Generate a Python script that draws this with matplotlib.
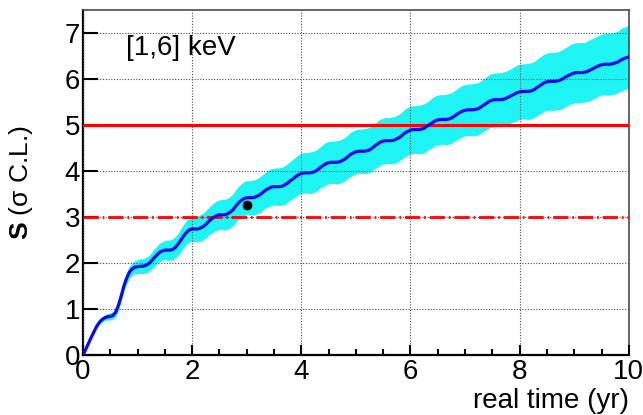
import numpy as np
import matplotlib
matplotlib.use("Agg")
import matplotlib.pyplot as plt
from matplotlib.ticker import MultipleLocator

# Data (step 0.05 yr)
time_yr = np.round(np.arange(0, 201) * 0.05, 2)
signif = [
    0.00, 0.12, 0.25, 0.38, 0.50, 0.62, 0.71, 0.77, 0.81, 0.83, 0.84,
    0.86, 0.93, 1.08, 1.28, 1.50, 1.67, 1.80, 1.87, 1.91, 1.92, 1.93,
    1.93, 1.95, 1.98, 2.04, 2.11, 2.17, 2.23, 2.26, 2.28, 2.28,
    2.28, 2.30, 2.35, 2.42, 2.51, 2.60, 2.67, 2.72, 2.74, 2.74,
    2.74, 2.76, 2.79, 2.84, 2.90, 2.95, 3.00, 3.03, 3.05, 3.05,
    3.05, 3.07, 3.11, 3.16, 3.24, 3.31, 3.36, 3.40, 3.42, 3.42,
    3.42, 3.43, 3.46, 3.49, 3.54, 3.59, 3.62, 3.65, 3.66, 3.66,
    3.66, 3.67, 3.70, 3.74, 3.79, 3.83, 3.88, 3.92, 3.95, 3.96, 3.96,
    3.96, 3.97, 3.99, 4.03, 4.08, 4.12, 4.16, 4.18, 4.19, 4.19,
    4.19, 4.20, 4.23, 4.26, 4.31, 4.36, 4.39, 4.42, 4.43, 4.43,
    4.43, 4.44, 4.46, 4.50, 4.55, 4.59, 4.63, 4.65, 4.66, 4.66,
    4.66, 4.67, 4.70, 4.73, 4.78, 4.83, 4.86, 4.89, 4.90, 4.90,
    4.90, 4.91, 4.93, 4.97, 5.01, 5.05, 5.09, 5.11, 5.12, 5.12,
    5.12, 5.13, 5.15, 5.19, 5.23, 5.27, 5.30, 5.32, 5.33, 5.33,
    5.33, 5.34, 5.36, 5.40, 5.44, 5.48, 5.52, 5.54, 5.55, 5.55,
    5.55, 5.56, 5.58, 5.61, 5.64, 5.67, 5.70, 5.72, 5.73, 5.73,
    5.73, 5.74, 5.76, 5.80, 5.84, 5.88, 5.92, 5.94, 5.95, 5.95,
    5.95, 5.96, 5.98, 6.01, 6.05, 6.08, 6.11, 6.13, 6.14, 6.14,
    6.14, 6.15, 6.17, 6.20, 6.23, 6.26, 6.29, 6.31, 6.32, 6.32,
    6.32, 6.33, 6.35, 6.37, 6.41, 6.44, 6.46, 6.48,
]
signif_err = [
    0.00, 0.01, 0.015, 0.02, 0.03, 0.04, 0.045, 0.05, 0.06, 0.07, 0.075,
    0.08, 0.09, 0.10, 0.105, 0.11, 0.12, 0.13, 0.135, 0.14, 0.15,
    0.16, 0.16, 0.17, 0.17, 0.18, 0.19, 0.19, 0.20, 0.20, 0.21,
    0.22, 0.22, 0.23, 0.23, 0.24, 0.25, 0.25, 0.26, 0.26, 0.27,
    0.28, 0.28, 0.29, 0.29, 0.30, 0.30, 0.31, 0.31, 0.32, 0.32,
    0.33, 0.33, 0.34, 0.34, 0.35, 0.35, 0.36, 0.36, 0.37, 0.37,
    0.37, 0.38, 0.38, 0.38, 0.39, 0.39, 0.39, 0.40, 0.40, 0.40,
    0.41, 0.41, 0.41, 0.42, 0.42, 0.42, 0.43, 0.43, 0.43, 0.44,
    0.44, 0.44, 0.45, 0.45, 0.45, 0.45, 0.45, 0.46, 0.46, 0.46,
    0.46, 0.46, 0.47, 0.47, 0.47, 0.47, 0.47, 0.48, 0.48, 0.48,
    0.48, 0.48, 0.49, 0.49, 0.49, 0.49, 0.49, 0.50, 0.50, 0.50,
    0.50, 0.50, 0.51, 0.51, 0.51, 0.51, 0.51, 0.52, 0.52, 0.52,
    0.52, 0.52, 0.53, 0.53, 0.53, 0.53, 0.53, 0.54, 0.54, 0.54,
    0.54, 0.54, 0.55, 0.55, 0.55, 0.55, 0.55, 0.56, 0.56, 0.56,
    0.56, 0.56, 0.57, 0.57, 0.57, 0.57, 0.57, 0.58, 0.58, 0.58,
    0.58, 0.58, 0.59, 0.59, 0.59, 0.59, 0.59, 0.60, 0.60, 0.60,
    0.60, 0.60, 0.61, 0.61, 0.61, 0.61, 0.62, 0.62, 0.62, 0.62,
    0.63, 0.63, 0.63, 0.63, 0.64, 0.64, 0.64, 0.64, 0.65, 0.65,
    0.65, 0.65, 0.65, 0.65, 0.66, 0.66, 0.66, 0.66, 0.66, 0.66,
    0.67, 0.67, 0.67, 0.67, 0.67, 0.67, 0.68, 0.68, 0.68, 0.68,
]
point_t = [3.0]
point_s = [3.27]
disc_level = 5
evid_level = 3
energy_label = "[1,6] keV"

# Style
plt.rcParams['font.family'] = ['Liberation Sans', 'DejaVu Sans']
plt.rcParams['mathtext.fontset'] = 'custom'
plt.rcParams['mathtext.rm'] = 'Liberation Sans'
plt.rcParams['mathtext.bf'] = 'Liberation Sans:bold'

fig = plt.figure(figsize=(6.43, 4.15), dpi=100)
ax = fig.add_axes([0.129, 0.1446, 0.849, 0.8314])

s = np.array(signif)
e = np.array(signif_err)
ax.fill_between(time_yr, s - e, s + e, color="#1ff4f4", lw=0, zorder=1)
ax.axhline(disc_level, color="#ff0000", lw=2.2, zorder=3)
ax.axhline(evid_level, color="#ff0000", lw=2.0, zorder=3,
           linestyle=(0, (5.5, 1.4, 0.6, 1.4)))
ax.plot(time_yr, s, color="#0a0af0", lw=2.3, zorder=4, solid_joinstyle="round")
ax.plot(point_t, point_s, "o", color="black", ms=6, zorder=5)

ax.set_xlim(0, 10)
ax.set_ylim(0, 7.5)
ax.xaxis.set_major_locator(MultipleLocator(2))
ax.xaxis.set_minor_locator(MultipleLocator(0.5))
ax.yaxis.set_major_locator(MultipleLocator(1))
ax.grid(True, which="major", color="0.3", lw=0.8, linestyle=(0, (1, 1.5)), zorder=2)
ax.set_axisbelow(False)

ax.tick_params(axis="x", which="major", direction="in", length=7.5, width=1.5,
               labelsize=20, pad=3)
ax.tick_params(axis="x", which="minor", direction="in", length=4, width=1.5)
ax.tick_params(axis="y", which="major", direction="in", length=11, width=1.5,
               labelsize=20, pad=2)
for side in ["left", "bottom"]:
    ax.spines[side].set_linewidth(1.6)
for side in ["top", "right"]:
    ax.spines[side].set_linewidth(1.2)
    ax.spines[side].set_color("0.3")

ax.set_xlabel("real time (yr)", fontsize=20, ha="right")
ax.xaxis.set_label_coords(1.0, -0.095)
ax.set_ylabel(r"$\mathbf{S}$ (σ C.L.)", fontsize=19)
ax.yaxis.set_label_coords(-0.088, 0.5)

ax.text(0.078, 0.89, energy_label, transform=ax.transAxes, fontsize=20,
        ha="left", va="center")

fig.savefig("out.png", dpi=100)
